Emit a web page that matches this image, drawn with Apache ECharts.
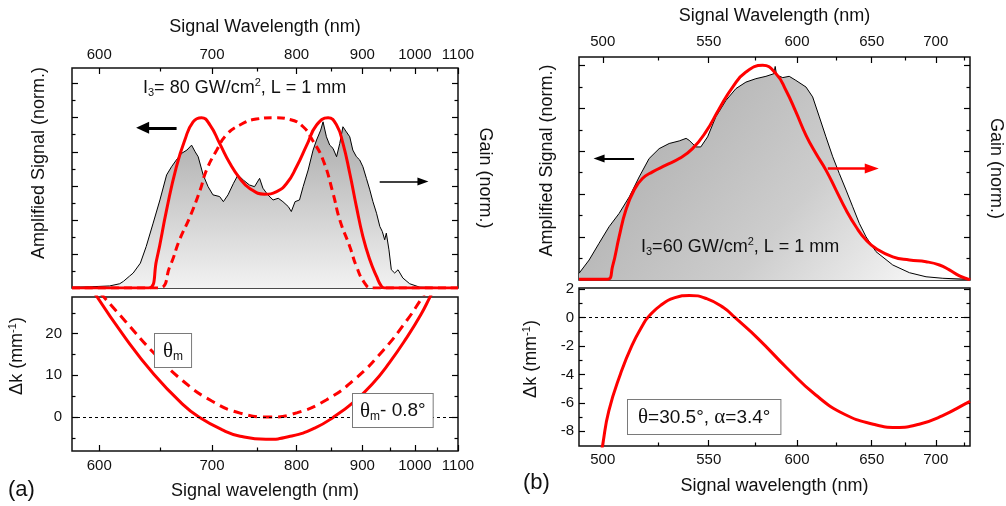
<!DOCTYPE html>
<html><head><meta charset="utf-8">
<script src="https://cdn.jsdelivr.net/npm/echarts@6/dist/echarts.min.js"></script>
<style>html,body{margin:0;padding:0;background:#fff}#c{width:1006px;height:506px}</style>
</head><body><div id="c"></div>
<script>
// ---------------- data ----------------
const aRange = [580, 1100];
const bRange = [490, 730];
const aTicksMajor = [600, 700, 800, 900, 1000, 1100];
const aTicksMinor = [650, 750, 850, 950, 1050];
const bTicksMajor = [500, 550, 600, 650, 700];
const bTicksMinor = [525, 575, 625, 675, 725];
const normMajorA = [0.2, 0.4, 0.6, 0.8, 1.0, 1.2];
const normMinorA = [0.1, 0.3, 0.5, 0.7, 0.9, 1.1];
const normMajorB = [0.2, 0.4, 0.6, 0.8, 1.0];
const normMinorB = [0.1, 0.3, 0.5, 0.7, 0.9];
const dkMajorA = [0, 10, 20];
const dkMinorA = [-5, 5, 15, 25];
const dkMajorB = [-8, -6, -4, -2, 0, 2];
const dkMinorB = [-7, -5, -3, -1, 1];

// (a) amplified signal
const aSignalLambda = [580,593,608,616,619,624,627,633,638,644,650,656,660.5,665,670,675,679.5,683,686,691,696,701,708,712,717,723,728,734,741,747,753,757,763,769.5,776,782,789,793,798,804,809,816,823,828,834,837.5,842.5,847.5,852.5,858,863,868,873.5,879,884,890,895.5,901,907,913,918.5,925,931,935.5,940,943,948,952.5,959,965.5,975,989,1010,1055,1100];
const aSignalValue = [0.005,0.007,0.012,0.025,0.039,0.07,0.088,0.146,0.244,0.381,0.517,0.664,0.712,0.752,0.791,0.81,0.839,0.80,0.771,0.664,0.595,0.547,0.537,0.507,0.547,0.615,0.664,0.634,0.605,0.595,0.644,0.586,0.547,0.517,0.527,0.507,0.478,0.449,0.507,0.517,0.595,0.693,0.81,0.869,0.927,0.976,0.888,0.839,0.82,0.771,0.849,0.947,0.917,0.888,0.81,0.771,0.752,0.712,0.644,0.576,0.507,0.439,0.361,0.332,0.283,0.322,0.224,0.107,0.088,0.107,0.059,0.025,0.005,0.003,0.002];
// (a) gain, theta_m - 0.8 deg (solid) and theta_m (dashed)
const aGainLambda = [580,640,647,656,665,673,681,689.4,698,708,719,730,741,759,774,787,800,814,828,845,858,868,879,890,901,913,925,934,940,1100];
const aGainValue = [0,0,0.164,0.459,0.712,0.869,0.976,1.0,0.957,0.849,0.732,0.644,0.586,0.551,0.566,0.615,0.712,0.839,0.957,1.0,0.957,0.849,0.674,0.478,0.302,0.166,0.068,0.01,0,0];
const aDashLambda = [580,648.4,659,668,678,688,694.4,705,715,730,749,771.6,791,809,822,837.5,852.5,863,879,890,904,916,1100];
const aDashValue = [0,0,0.127,0.283,0.419,0.576,0.693,0.81,0.898,0.957,0.992,1.0,0.99,0.947,0.869,0.752,0.557,0.40,0.244,0.127,0.029,0,0];
// (a) phase mismatch
const aDkLambda = [596,620.5,644.8,671,686.7,711.5,730.4,760.7,793.6,825.3,853.6,887.5,917,948.6,982.6,1012.8,1031.8,1045];
const aDkValue = [30,19.0,10.2,3.05,0,-3.15,-4.6,-5.35,-4.55,-2.65,0,3.84,7.84,13.0,19.0,24.6,28.6,31.5];
const aDkDashLambda = [601,620.5,644.8,671,699.4,730.4,765,801.2,842.2,887.5,937.9,982.6,1012.8,1025];
const aDkDashValue = [29.7,23.0,15.3,8.7,3.9,0.94,0,1.06,4.1,9.1,16.1,23.1,28.2,30.3];

// (b) amplified signal and gain
const bSignalLambda = [490,494.2,498.4,502.7,507.1,511.6,516.1,520.7,525.4,530.2,535.1,538.5,540,543.4,545.9,549.4,553.7,559.1,564.5,570,575.6,581.4,586,586.8,587.6,591.3,595.2,599.3,605.6,609.8,614.1,618.4,622.9,627.3,631.9,636.5,641.1,645.9,653.1,665.6,678.5,691.9,706,730];
const bSignalValue = [0.031,0.093,0.171,0.248,0.31,0.387,0.48,0.566,0.612,0.636,0.648,0.66,0.651,0.62,0.62,0.667,0.76,0.837,0.892,0.922,0.938,0.949,0.961,0.995,0.955,0.943,0.949,0.93,0.899,0.853,0.76,0.667,0.574,0.496,0.419,0.341,0.264,0.201,0.132,0.07,0.034,0.015,0.008,0.003];
const bGainLambda = [490,502,504.2,507.1,510.1,513.8,517.6,522.3,528.6,535.1,541.7,548.5,555.5,562.7,570,579.5,587.3,593.2,599.3,605.6,611.9,618.4,625.1,631.9,638.8,645.9,653.1,665.6,678.5,691.9,703.1,711.6,720.5,728.9,730];
const bGainValue = [0.003,0.003,0.062,0.201,0.326,0.419,0.473,0.504,0.535,0.566,0.612,0.69,0.798,0.899,0.969,1.0,0.961,0.884,0.783,0.674,0.589,0.512,0.419,0.326,0.248,0.186,0.147,0.108,0.093,0.085,0.07,0.047,0.019,0.003,0.0];
// (b) phase mismatch
const bDkLambda = [498.5,500,502.6,507.7,512.8,518.1,520.1,526.1,533,540.1,548.9,557.9,563.9,577,593.8,611.8,630.8,651.1,668.2,686.3,705.4,728.2,730];
const bDkValue = [-10.5,-8.9,-6.56,-3.97,-1.97,-0.44,0,0.85,1.39,1.55,1.32,0.68,0,-1.5,-3.55,-5.45,-6.8,-7.5,-7.73,-7.5,-6.91,-5.97,-5.9];

// annotation arrows: [lambdaStart, lambdaEnd, level]
const aArrowLeft = [665.2, 634.9, 0.941];
const aArrowRight = [930.7, 1017.2, 0.625];
const bArrowLeft = [513.8, 498.4, 0.566];
const bArrowRight = [619.6, 650.0, 0.52];

// ---------------- helpers ----------------
const FONT = '"Liberation Sans", Arial, sans-serif';
const SERIF = '"Liberation Serif", "DejaVu Serif", serif';
const toU = l => 1000 / l;   // axis runs linear in 1/wavelength
const zip = (xs, ys) => xs.map((x, i) => [toU(x), ys[i]]);
const TICK = {color: '#000', width: 1.2};
const RICH = {
  sup: {fontSize: 11, fontFamily: FONT, color: '#111', padding: [0, 0, 10, 0]},
  sub: {fontSize: 11, fontFamily: FONT, color: '#111', padding: [10, 0, 0, 0]}
};
const NOLINE = {show: false, onZero: false};

function xPair(grid, pos, range, majors, minors, name, nameGap, margin) {
  const base = {type: 'value', gridIndex: grid, position: pos, inverse: true,
    min: toU(range[1]), max: toU(range[0]), axisLine: NOLINE, splitLine: {show: false}};
  return [
    Object.assign({}, base, {
      name: name, nameLocation: 'middle', nameGap: nameGap,
      nameTextStyle: {fontSize: 18, color: '#111', fontFamily: FONT},
      axisTick: {show: true, inside: true, length: 6, lineStyle: TICK, customValues: majors.map(toU)},
      axisLabel: {show: true, customValues: majors.map(toU), margin: margin, fontSize: 15, color: '#111',
        fontFamily: FONT, formatter: v => String(Math.round(1000 / v))}
    }),
    Object.assign({}, base, {
      axisTick: {show: true, inside: true, length: 3.5, lineStyle: TICK, customValues: minors.map(toU)},
      axisLabel: {show: false}
    })
  ];
}
function yPair(grid, pos, range, majors, minors, o) {
  const base = {type: 'value', gridIndex: grid, position: pos, min: range[0], max: range[1],
    axisLine: NOLINE, splitLine: {show: false}};
  const major = Object.assign({}, base, {
    axisTick: {show: true, inside: true, length: 6, lineStyle: TICK, customValues: majors},
    axisLabel: o.labels ? {show: true, customValues: majors, margin: o.margin, fontSize: 15, color: '#111', fontFamily: FONT} : {show: false}
  });
  if (o.name) Object.assign(major, {name: o.name, nameLocation: 'middle', nameGap: o.nameGap, nameRotate: o.nameRotate,
    nameTextStyle: {fontSize: 18, color: '#111', fontFamily: FONT, padding: o.namePad || 0, rich: RICH}});
  const minor = Object.assign({}, base, {
    axisTick: {show: true, inside: true, length: 3.5, lineStyle: TICK, customValues: minors},
    axisLabel: {show: false}
  });
  return [major, minor];
}

const aTopY = [0, 1.292], aLowY = [-8.15, 28.8], bTopY = [0, 1.039], bLowY = [-9.03, 2.07];

const xAxes = [].concat(
  xPair(0, 'top', aRange, aTicksMajor, aTicksMinor, 'Signal Wavelength (nm)', 32, 6),     // 0,1
  xPair(1, 'bottom', aRange, aTicksMajor, aTicksMinor, 'Signal wavelength (nm)', 31, 7), // 2,3
  xPair(2, 'top', bRange, bTicksMajor, bTicksMinor, 'Signal Wavelength (nm)', 32, 8),     // 4,5
  xPair(3, 'bottom', bRange, bTicksMajor, bTicksMinor, 'Signal wavelength (nm)', 31, 6)   // 6,7
);
const yAxes = [].concat(
  yPair(0, 'left', aTopY, normMajorA, normMinorA, {name: 'Amplified Signal (norm.)', nameGap: 24, nameRotate: 90, namePad: [0, 0, 0, 30]}), // 0,1
  yPair(0, 'right', aTopY, normMajorA, normMinorA, {name: 'Gain (norm.)', nameGap: 18, nameRotate: -90}),   // 2,3
  yPair(1, 'left', aLowY, dkMajorA, dkMinorA, {labels: true, margin: 10, name: 'Δk (mm{sup|-1})', nameGap: 44, nameRotate: 90, namePad: [0, 0, 0, 36]}), // 4,5
  yPair(1, 'right', aLowY, dkMajorA, dkMinorA, {}), // 6,7
  yPair(2, 'left', bTopY, normMajorB, normMinorB, {name: 'Amplified Signal (norm.)', nameGap: 23, nameRotate: 90, namePad: [0, 0, 0, 16]}), // 8,9
  yPair(2, 'right', bTopY, normMajorB, normMinorB, {name: 'Gain (norm.)', nameGap: 17, nameRotate: -90}), // 10,11
  yPair(3, 'left', bLowY, dkMajorB, dkMinorB, {labels: true, margin: 5, name: 'Δk (mm{sup|-1})', nameGap: 37, nameRotate: 90, namePad: [0, 0, 0, 16]}), // 12,13
  yPair(3, 'right', bLowY, dkMajorB, dkMinorB, {}) // 14,15
);

function arrow(def, width, color, head) {
  return [
    {coord: [toU(def[0]), def[2]], symbol: 'none', lineStyle: {width: width, color: color, type: 'solid'}},
    {coord: [toU(def[1]), def[2]], symbol: 'triangle', symbolSize: head}
  ];
}
const zeroLine = {silent: true, symbol: ['none', 'none'], label: {show: false}, animation: false,
  lineStyle: {color: '#000', type: [3, 3], width: 1.2}, data: [{yAxis: 0}]};

const gridStyle = {show: true, borderColor: '#111', borderWidth: 1.5, backgroundColor: 'transparent'};
const RED = '#ff0000';

const option = {
  animation: false,
  textStyle: {fontFamily: FONT},
  grid: [
    Object.assign({left: 72, top: 68, width: 386, height: 220}, gridStyle),
    Object.assign({left: 72, top: 297, width: 386, height: 154}, gridStyle),
    Object.assign({left: 579, top: 57, width: 391, height: 223}, gridStyle),
    Object.assign({left: 579, top: 288, width: 391, height: 158}, gridStyle)
  ],
  xAxis: xAxes,
  yAxis: yAxes,
  series: [
    {type: 'line', xAxisIndex: 0, yAxisIndex: 0, data: zip(aSignalLambda, aSignalValue), symbol: 'none',
      lineStyle: {color: '#000', width: 1}, z: 2,
      areaStyle: {opacity: 1, color: new echarts.graphic.LinearGradient(0, 0, 0, 1, [{offset: 0, color: '#a9a9a9'}, {offset: 1, color: '#f2f2f2'}])},
      markLine: {silent: true, animation: false, label: {show: false}, symbol: ['none', 'triangle'],
        data: [arrow(aArrowLeft, 3.2, '#000', [12, 13]), arrow(aArrowRight, 1.6, '#000', [8, 11])]}},
    {type: 'line', xAxisIndex: 0, yAxisIndex: 2, data: zip(aDashLambda, aDashValue), symbol: 'none', smooth: 0.5,
      lineStyle: {color: RED, width: 3, type: [8, 5]}, z: 3},
    {type: 'line', xAxisIndex: 0, yAxisIndex: 2, data: zip(aGainLambda, aGainValue), symbol: 'none', smooth: 0.5,
      lineStyle: {color: RED, width: 3}, z: 4},

    {type: 'line', xAxisIndex: 2, yAxisIndex: 4, data: zip(aDkDashLambda, aDkDashValue), symbol: 'none', smooth: 0.5,
      lineStyle: {color: RED, width: 3, type: [9, 6]}, z: 3, markLine: zeroLine},
    {type: 'line', xAxisIndex: 2, yAxisIndex: 4, data: zip(aDkLambda, aDkValue), symbol: 'none', smooth: 0.5,
      lineStyle: {color: RED, width: 3}, z: 4},

    {type: 'line', xAxisIndex: 4, yAxisIndex: 8, data: zip(bSignalLambda, bSignalValue), symbol: 'none',
      lineStyle: {color: '#000', width: 1}, z: 2,
      areaStyle: {opacity: 1, color: new echarts.graphic.LinearGradient(0.3, 0.1, 0.9, 1, [{offset: 0, color: '#b6b6b6'}, {offset: 0.5, color: '#cdcdcd'}, {offset: 1, color: '#f8f8f8'}])},
      markLine: {silent: true, animation: false, label: {show: false}, symbol: ['none', 'triangle'],
        data: [arrow(bArrowLeft, 1.8, '#000', [8, 11]), arrow(bArrowRight, 2.6, RED, [10, 14])]}},
    {type: 'line', xAxisIndex: 4, yAxisIndex: 10, data: zip(bGainLambda, bGainValue), symbol: 'none', smooth: 0.5,
      lineStyle: {color: RED, width: 3}, z: 4},

    {type: 'line', xAxisIndex: 6, yAxisIndex: 12, data: zip(bDkLambda, bDkValue), symbol: 'none', smooth: 0.5,
      lineStyle: {color: RED, width: 3}, z: 4, markLine: zeroLine}
  ],
  graphic: [
    {type: 'text', x: 143, y: 88, z: 100, style: {text: 'I{sub|3}= 80 GW/cm{sup|2}, L = 1 mm', fontSize: 18, fontFamily: FONT, fill: '#111', verticalAlign: 'middle', rich: RICH}},
    {type: 'text', x: 641, y: 247, z: 100, style: {text: 'I{sub|3}=60 GW/cm{sup|2}, L = 1 mm', fontSize: 18, fontFamily: FONT, fill: '#111', verticalAlign: 'middle', rich: RICH}},
    {type: 'text', x: 155, y: 334, z: 100, style: {text: '{th|θ}{sm|m}', fontSize: 19, fontFamily: FONT, fill: '#111',
      backgroundColor: '#fff', borderColor: '#7a7a7a', borderWidth: 1, padding: [5, 8, 4, 8],
      rich: {th: {fontSize: 21, fontFamily: SERIF, color: '#111'}, sm: {fontSize: 12, fontFamily: FONT, color: '#111', padding: [12, 0, 0, 0]}}}},
    {type: 'text', x: 353, y: 394, z: 100, style: {text: '{th|θ}{sm|m}- 0.8°', fontSize: 19, fontFamily: FONT, fill: '#111',
      backgroundColor: '#fff', borderColor: '#7a7a7a', borderWidth: 1, padding: [5, 7, 4, 7],
      rich: {th: {fontSize: 21, fontFamily: SERIF, color: '#111'}, sm: {fontSize: 12, fontFamily: FONT, color: '#111', padding: [12, 0, 0, 0]}}}},
    {type: 'text', x: 628, y: 400, z: 100, style: {text: '{th|θ}=30.5°, {th|α}=3.4°', fontSize: 19, fontFamily: FONT, fill: '#111',
      backgroundColor: '#fff', borderColor: '#7a7a7a', borderWidth: 1, padding: [7, 10, 6, 10],
      rich: {th: {fontSize: 21, fontFamily: SERIF, color: '#111'}}}},
    {type: 'text', x: 8, y: 490, z: 100, style: {text: '(a)', fontSize: 22, fontFamily: FONT, fill: '#111', verticalAlign: 'middle'}},
    {type: 'text', x: 523, y: 483, z: 100, style: {text: '(b)', fontSize: 22, fontFamily: FONT, fill: '#111', verticalAlign: 'middle'}}
  ]
};
echarts.init(document.getElementById('c'), null, {renderer: 'canvas'}).setOption(option);
</script></body></html>
